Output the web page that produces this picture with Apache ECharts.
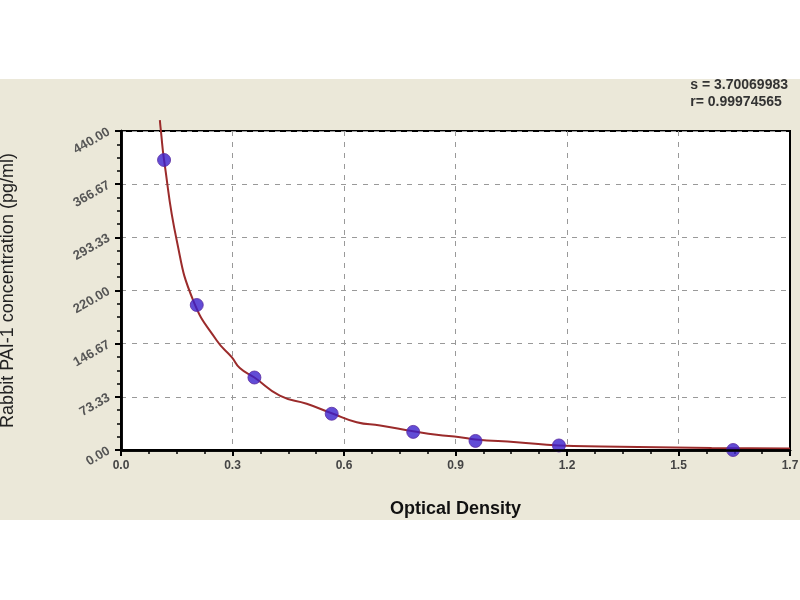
<!DOCTYPE html>
<html>
<head>
<meta charset="utf-8">
<script src="https://cdn.jsdelivr.net/npm/echarts@6/dist/echarts.min.js"></script>
<style>
html,body{margin:0;padding:0;background:#fff;}
#chart{width:800px;height:600px;}
</style>
</head>
<body>
<div id="chart"></div>
<script>
// Standard points (optical density, concentration pg/ml)
var pointOD = [0.112, 0.197, 0.347, 0.548, 0.760, 0.922, 1.139, 1.592];
var pointConc = [400, 200, 100, 50, 25, 12.5, 6.25, 0];

// Fitted curve
var curveOD = [0.101, 0.104, 0.112, 0.145, 0.188, 0.249, 0.288, 0.309, 0.347, 0.413, 0.483, 0.548, 0.613, 0.674, 0.760, 0.821, 0.882, 0.922, 1.029, 1.139, 1.250, 1.536, 1.740];
var curveConc = [455, 439, 400, 289, 206, 151, 128, 113, 100, 75, 63.7, 50.7, 38.3, 33.8, 26, 21, 17.6, 14.5, 10.8, 6.2, 4.8, 2.8, 2.0];

var xTickLabels = ["0.0", "0.3", "0.6", "0.9", "1.2", "1.5", "1.7"];
var yTickLabels = ["0.00", "73.33", "146.67", "220.00", "293.33", "366.67", "440.00"];

var statsLines = ["s = 3.70069983", "r= 0.99974565"];
var xTitle = "Optical Density";
var yTitle = "Rabbit PAI-1 concentration (pg/ml)";

var xStep = 0.29, xMax = 1.74;
var yStep = 440 / 6, yMax = 440;

var curveData = curveOD.map(function (x, i) { return [x, curveConc[i]]; });
var pointData = pointOD.map(function (x, i) { return [x, pointConc[i]]; });

var FONT = '"Liberation Sans", Arial, sans-serif';
var frameAxis = { show: true, lineStyle: { color: '#000', width: 2.5 } };

var chart = echarts.init(document.getElementById('chart'));
chart.setOption({
  backgroundColor: '#ffffff',
  animation: false,
  graphic: [
    { type: 'rect', z: -10, shape: { x: 0, y: 79, width: 800, height: 441 }, style: { fill: '#ebe8d9' } },
    { type: 'text', right: 12, top: 77, style: { text: statsLines.join('\n'), fill: '#333', font: 'bold 14px ' + FONT, lineHeight: 17, align: 'right' } }
  ],
  grid: {
    left: 121, right: 10, top: 131, bottom: 150,
    containLabel: false, outerBoundsMode: 'none',
    show: true, backgroundColor: '#ffffff', borderColor: '#000', borderWidth: 2
  },
  xAxis: [{
    type: 'value', min: 0, max: xMax, interval: xStep,
    name: xTitle, nameLocation: 'middle', nameGap: 50,
    nameTextStyle: { color: '#111', fontSize: 18, fontWeight: 'bold', fontFamily: FONT },
    axisLine: frameAxis,
    axisTick: { show: true, inside: false, length: 6, lineStyle: { color: '#000', width: 2 } },
    minorTick: { show: true, splitNumber: 4, length: 4, lineStyle: { color: '#000', width: 1.5 } },
    axisLabel: {
      margin: 10, color: '#444', fontSize: 12, fontWeight: 'bold', fontFamily: FONT,
      showMaxLabel: true, showMinLabel: true,
      formatter: function (v) { return xTickLabels[Math.round(v / xStep)]; }
    },
    splitLine: { show: true, showMinLine: false, showMaxLine: false, lineStyle: { color: '#999', type: [5, 6], width: 1 } }
  }, {
    type: 'value', position: 'top', min: 0, max: xMax, interval: xStep, z: 10,
    axisLine: frameAxis, axisTick: { show: false }, axisLabel: { show: false }, splitLine: { show: false }
  }],
  yAxis: [{
    type: 'value', min: 0, max: yMax, interval: yStep,
    name: yTitle, nameLocation: 'middle', nameGap: 104, nameRotate: 90,
    nameTextStyle: { color: '#222', fontSize: 18, fontFamily: FONT },
    axisLine: frameAxis,
    axisTick: { show: true, inside: false, length: 6, lineStyle: { color: '#000', width: 2 } },
    minorTick: { show: true, splitNumber: 4, length: 4, lineStyle: { color: '#000', width: 1.5 } },
    axisLabel: {
      margin: 12, rotate: 30, color: '#555', fontSize: 13, fontWeight: 'bold', fontFamily: FONT,
      formatter: function (v) { return yTickLabels[Math.round(v / yStep)]; }
    },
    splitLine: { show: true, showMinLine: false, showMaxLine: false, lineStyle: { color: '#999', type: [5, 6], width: 1 } }
  }, {
    type: 'value', position: 'right', min: 0, max: yMax, interval: yStep, z: 10,
    axisLine: frameAxis, axisTick: { show: false }, axisLabel: { show: false }, splitLine: { show: false }
  }],
  series: [
    {
      type: 'line', data: curveData, smooth: true, showSymbol: false, clip: false, z: 2,
      lineStyle: { color: '#9b2b2b', width: 2 }
    },
    {
      type: 'scatter', data: pointData, symbol: 'circle', symbolSize: 13, z: 3,
      itemStyle: { color: '#3a1fcc', borderColor: '#5a2aa0', borderWidth: 1 }
    }
  ]
});
</script>
</body>
</html>
